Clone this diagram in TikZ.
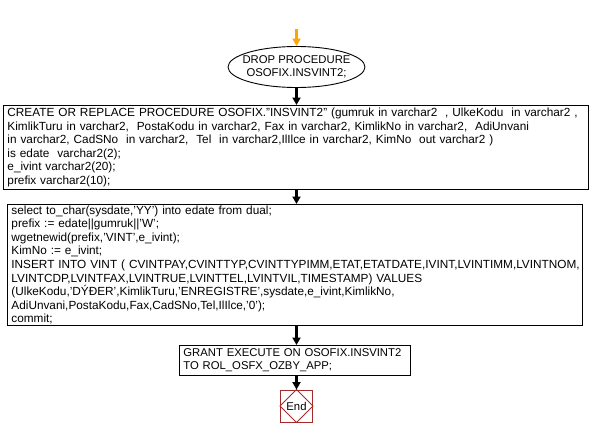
\documentclass[tikz,border=0pt]{standalone}
\usepackage{fontspec}
\setmainfont{Liberation Sans}
\usetikzlibrary{shapes.geometric,arrows.meta}
\definecolor{flowarrow}{RGB}{255,165,0}
\definecolor{endred}{RGB}{165,42,42}
\tikzset{
  px/.style={x=1pt,y=-1pt},
  codebox/.style={draw=black,line width=0.9pt,anchor=north west,align=left,inner xsep=4pt,inner ysep=0pt,
    font=\fontsize{11.8}{13.6}\selectfont},
  flow/.style={line width=2.6pt,-{Triangle[width=8pt,length=7.5pt]}},
  startarrow/.style={flow,draw=flowarrow,color=flowarrow},
  oval/.style={ellipse,draw=black,line width=0.9pt,minimum width=137pt,minimum height=41pt,inner sep=0pt},
  label/.style={align=center,inner sep=0pt,font=\fontsize{11.3}{13.2}\selectfont},
  endbox/.style={draw=endred,line width=0.9pt,minimum width=32pt,minimum height=32pt,inner sep=0pt},
}
\begin{document}
\begin{tikzpicture}[px]
\useasboundingbox (0,0) rectangle (590,437);
\coordinate (s) at (296.5,29);
\node[oval] (drop) at (296.5,67) {};
\node[label] (droptext) at (drop.center) {DROP PROCEDURE\\OSOFIX.INSVINT2;};
\node[codebox,text width=577pt,minimum height=84pt] (create) at (3,105) {CREATE OR REPLACE PROCEDURE OSOFIX."INSVINT2" (gumruk in varchar2\ \ , UlkeKodu\ \ in varchar2 ,\\
KimlikTuru in varchar2,\ \ PostaKodu in varchar2, Fax in varchar2, KimlikNo in varchar2,\ \ AdiUnvani\\
in varchar2, CadSNo\ \ in varchar2,\ \ Tel\ \ in varchar2,IlIlce in varchar2, KimNo\ \ out varchar2 )\\
is edate\ \ varchar2(2);\\
e\_ivint varchar2(20);\\
prefix varchar2(10);};
\node[codebox,text width=567pt,minimum height=121pt] (body) at (7,204) {select to\_char(sysdate,'YY') into edate from dual;\\
prefix := edate||gumruk||'W';\\
wgetnewid(prefix,'VINT',e\_ivint);\\
KimNo := e\_ivint;\\
INSERT INTO VINT ( CVINTPAY,CVINTTYP,CVINTTYPIMM,ETAT,ETATDATE,IVINT,LVINTIMM,LVINTNOM,\\
LVINTCDP,LVINTFAX,LVINTRUE,LVINTTEL,LVINTVIL,TIMESTAMP) VALUES\\
(UlkeKodu,'DÝÐER',KimlikTuru,'ENREGISTRE',sysdate,e\_ivint,KimlikNo,\\
AdiUnvani,PostaKodu,Fax,CadSNo,Tel,IlIlce,'0');\\
commit;};
\node[codebox,text width=223pt,minimum height=30pt,font=\fontsize{11.3}{13.2}\selectfont] (grant) at (179,345) {GRANT EXECUTE ON OSOFIX.INSVINT2\\TO ROL\_OSFX\_OZBY\_APP;};
\node[endbox] (end) at (296.5,406) {};
\draw[endred,line width=0.9pt] (end.north) -- (end.east) -- (end.south) -- (end.west) -- cycle;
\node[label] (endlabel) at (end.center) {End};
\draw[startarrow] (s) -- (drop.north);
\draw[flow] (drop.south) -- (drop.south |- create.north);
\draw[flow] (create.south -| drop) -- (body.north -| drop);
\draw[flow] (body.south -| drop) -- (grant.north -| drop);
\draw[flow] (grant.south -| drop) -- (end.north);
\end{tikzpicture}
\end{document}
